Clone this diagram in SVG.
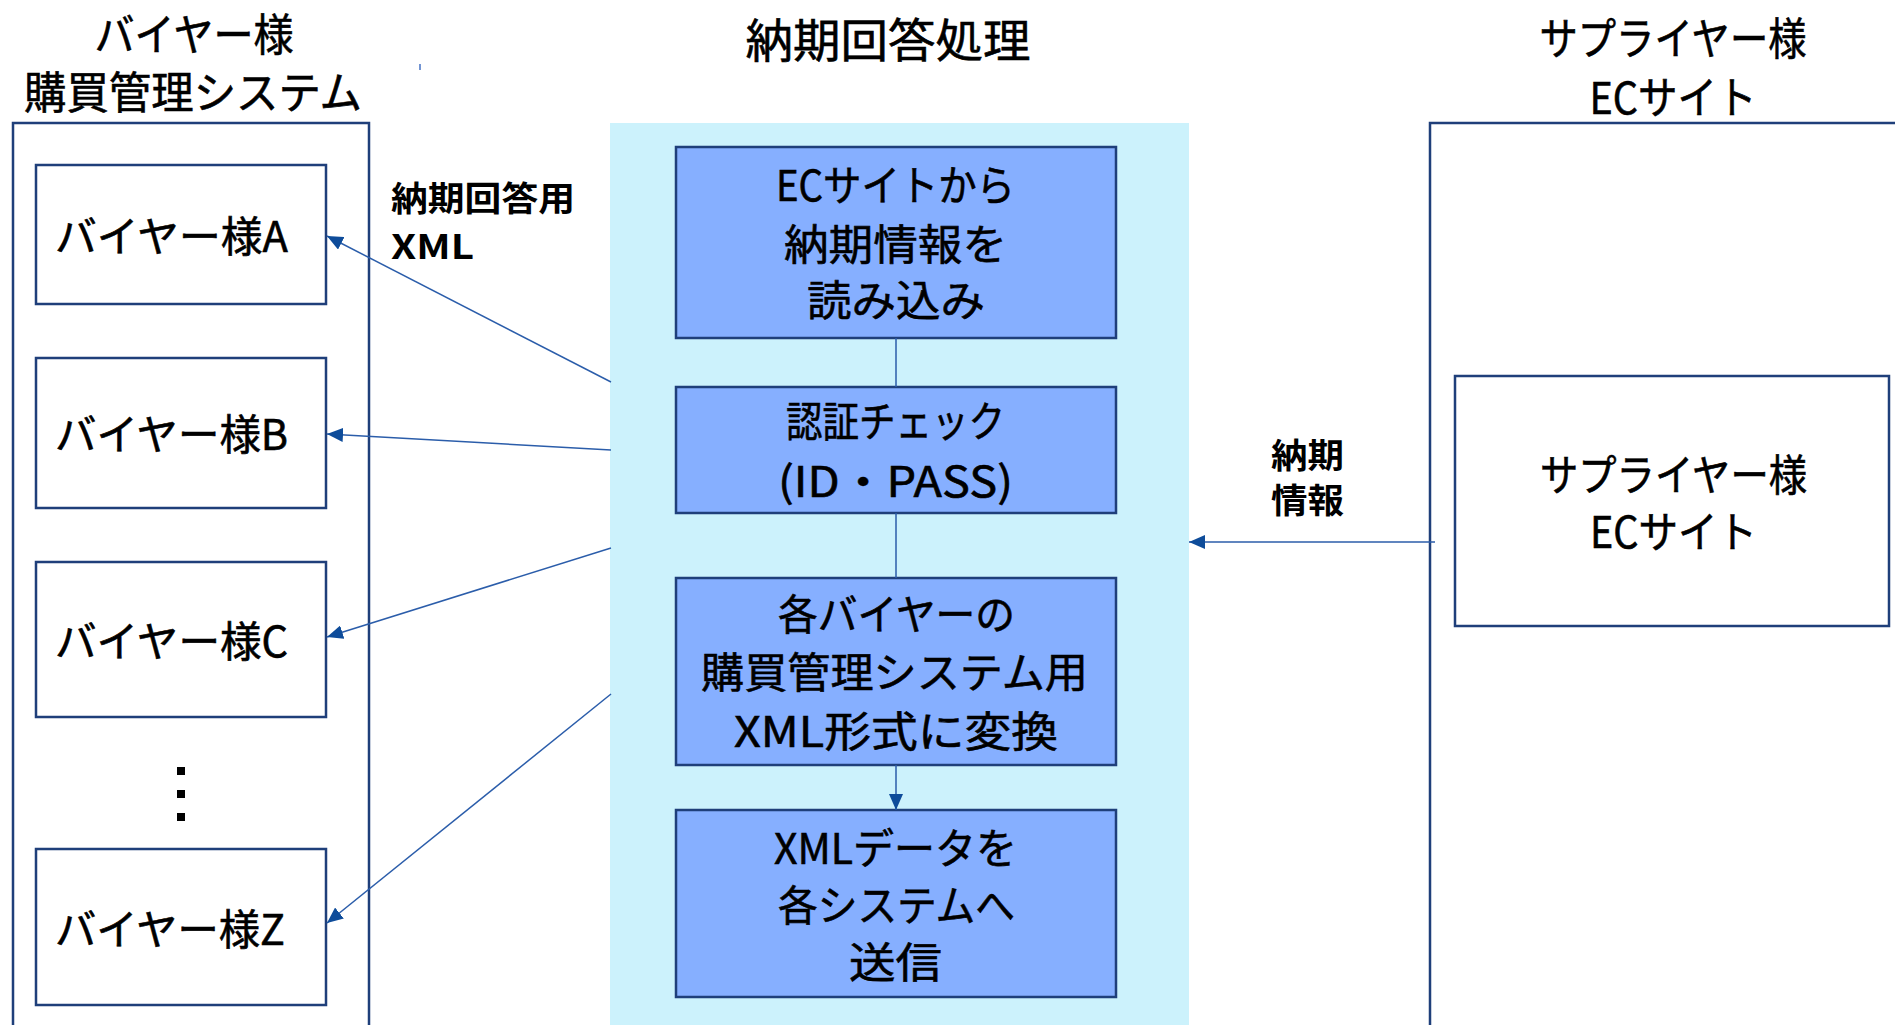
<svg xmlns="http://www.w3.org/2000/svg" width="1895" height="1025" viewBox="0 0 1895 1025">
<defs>
<style>
.t{font-family:"Noto Sans CJK JP","Noto Sans",sans-serif;fill:#000;stroke:#000;stroke-width:0.6;dominant-baseline:central;text-anchor:middle}
.b{font-family:"Noto Sans CJK JP","Noto Sans",sans-serif;fill:#000;font-weight:bold;dominant-baseline:central;text-anchor:start}
.frame{fill:none;stroke:#1F3F7A;stroke-width:2.5}
.box{fill:#fff;stroke:#1F3F7A;stroke-width:2.5}
.proc{fill:#86AFFF;stroke:#1F3F7A;stroke-width:2.5}
.ln{stroke:#2B5DAA;stroke-width:1.5;fill:none}
</style>
<marker id="ah" viewBox="0 0 16 14" refX="16" refY="7" markerWidth="16" markerHeight="14" orient="auto" markerUnits="userSpaceOnUse"><path d="M0,0 L16,7 L0,14 z" fill="#0E4C9A"/></marker>
</defs>
<rect x="0" y="0" width="1895" height="1025" fill="#fff"/>

<g id="panel-process">
<rect x="610" y="123" width="579" height="910" fill="#CCF2FC"/>
<text class="t" x="888" y="37" font-size="46" textLength="285" lengthAdjust="spacingAndGlyphs">納期回答処理</text>
</g>

<g id="container-buyer">
<rect class="frame" x="13" y="123" width="356" height="920"/>
<text class="t" x="194" y="32" font-size="44" textLength="199" lengthAdjust="spacingAndGlyphs">バイヤー様</text>
<text class="t" x="193" y="90" font-size="44" textLength="338" lengthAdjust="spacingAndGlyphs">購買管理システム</text>
</g>

<g id="container-supplier">
<rect class="frame" x="1430" y="123" width="480" height="920"/>
<text class="t" x="1673" y="36" font-size="44" textLength="267" lengthAdjust="spacingAndGlyphs">サプライヤー様</text>
<text class="t" x="1673" y="95" font-size="44" textLength="167" lengthAdjust="spacingAndGlyphs">ECサイト</text>
</g>

<g id="buyer-a">
<rect class="box" x="36" y="165" width="290" height="139"/>
<text class="t" x="171.5" y="233" font-size="42" textLength="233" lengthAdjust="spacingAndGlyphs">バイヤー様A</text>
</g>
<g id="buyer-b">
<rect class="box" x="36" y="358" width="290" height="150"/>
<text class="t" x="171.5" y="431" font-size="42" textLength="233" lengthAdjust="spacingAndGlyphs">バイヤー様B</text>
</g>
<g id="buyer-c">
<rect class="box" x="36" y="562" width="290" height="155"/>
<text class="t" x="171.5" y="638" font-size="42" textLength="233" lengthAdjust="spacingAndGlyphs">バイヤー様C</text>
</g>
<g id="buyer-ellipsis">
<rect x="177" y="767" width="8" height="8" fill="#000"/>
<rect x="177" y="790" width="8" height="8" fill="#000"/>
<rect x="177" y="813" width="8" height="8" fill="#000"/>
</g>
<g id="buyer-z">
<rect class="box" x="36" y="849" width="290" height="156"/>
<text class="t" x="170" y="926" font-size="42" textLength="230" lengthAdjust="spacingAndGlyphs">バイヤー様Z</text>
</g>

<g id="step1">
<rect class="proc" x="676" y="147" width="440" height="191"/>
<text class="t" x="895.5" y="182.5" font-size="42" textLength="239" lengthAdjust="spacingAndGlyphs">ECサイトから</text>
<text class="t" x="895.5" y="241" font-size="42" textLength="223" lengthAdjust="spacingAndGlyphs">納期情報を</text>
<text class="t" x="896" y="297" font-size="42" textLength="178" lengthAdjust="spacingAndGlyphs">読み込み</text>
</g>
<g id="step2">
<rect class="proc" x="676" y="387" width="440" height="126"/>
<text class="t" x="895.5" y="418.5" font-size="42" textLength="219" lengthAdjust="spacingAndGlyphs">認証チェック</text>
<text class="t" x="895.5" y="478" font-size="42" textLength="235" lengthAdjust="spacingAndGlyphs">(ID・PASS)</text>
</g>
<g id="step3">
<rect class="proc" x="676" y="578" width="440" height="187"/>
<text class="t" x="896.5" y="611" font-size="42" textLength="237" lengthAdjust="spacingAndGlyphs">各バイヤーの</text>
<text class="t" x="894.5" y="669" font-size="42" textLength="387" lengthAdjust="spacingAndGlyphs">購買管理システム用</text>
<text class="t" x="896" y="728.5" font-size="42" textLength="324" lengthAdjust="spacingAndGlyphs">XML形式に変換</text>
</g>
<g id="step4">
<rect class="proc" x="676" y="810" width="440" height="187"/>
<text class="t" x="895.5" y="845" font-size="42" textLength="243" lengthAdjust="spacingAndGlyphs">XMLデータを</text>
<text class="t" x="896.5" y="902" font-size="42" textLength="237" lengthAdjust="spacingAndGlyphs">各システムへ</text>
<text class="t" x="895.5" y="959" font-size="42" textLength="93" lengthAdjust="spacingAndGlyphs">送信</text>
</g>

<g id="supplier-ec">
<rect class="box" x="1455" y="376" width="434" height="250"/>
<text class="t" x="1673.5" y="472" font-size="43" textLength="267" lengthAdjust="spacingAndGlyphs">サプライヤー様</text>
<text class="t" x="1673.5" y="529" font-size="43" textLength="167" lengthAdjust="spacingAndGlyphs">ECサイト</text>
</g>

<g id="connectors">
<line class="ln" x1="896" y1="338" x2="896" y2="387"/>
<line class="ln" x1="896" y1="513" x2="896" y2="578"/>
<line class="ln" x1="896" y1="765" x2="896" y2="810" marker-end="url(#ah)"/>
<line class="ln" x1="1435" y1="542" x2="1189" y2="542" marker-end="url(#ah)"/>
<line class="ln" x1="611" y1="382" x2="327" y2="236" marker-end="url(#ah)"/>
<line class="ln" x1="611" y1="450" x2="327" y2="434" marker-end="url(#ah)"/>
<line class="ln" x1="611" y1="548" x2="327" y2="637" marker-end="url(#ah)"/>
<line class="ln" x1="611" y1="694" x2="327" y2="923" marker-end="url(#ah)"/>
<line x1="420" y1="64" x2="420" y2="70" stroke="#4472C4" stroke-width="1.5"/>
</g>

<g id="labels">
<text class="b" x="391" y="196.5" font-size="34" textLength="184" lengthAdjust="spacingAndGlyphs">納期回答用</text>
<text class="b" x="391" y="244" font-size="34" textLength="83" lengthAdjust="spacingAndGlyphs">XML</text>
<text class="b" x="1271" y="453.5" font-size="34" textLength="73" lengthAdjust="spacingAndGlyphs">納期</text>
<text class="b" x="1271" y="498.5" font-size="34" textLength="73" lengthAdjust="spacingAndGlyphs">情報</text>
</g>
</svg>
